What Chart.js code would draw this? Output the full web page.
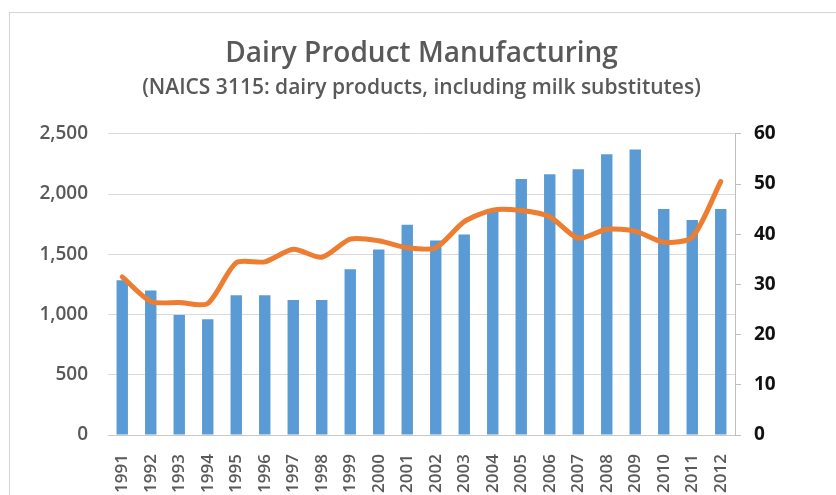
<!DOCTYPE html>
<html>
<head>
<meta charset="utf-8">
<script src="https://cdn.jsdelivr.net/npm/chart.js@4"></script>
<style>
  html, body { margin: 0; padding: 0; background: #fff; }
  #wrap { position: relative; width: 836px; height: 495px; overflow: hidden; }
  #frame { position: absolute; left: 9px; top: 12px; width: 900px; height: 600px;
           border-left: 1px solid #d4d4d4; border-top: 1px solid #d4d4d4; }
  #chart { position: absolute; left: 0; top: 0; }
</style>
</head>
<body>
<div id="wrap">
  <div id="frame"></div>
  <canvas id="chart" width="836" height="495"></canvas>
</div>
<script>
// dairy manufacturing: establishments (bars, left) and shipments (line, right)
var years = ["1991","1992","1993","1994","1995","1996","1997","1998","1999","2000","2001",
             "2002","2003","2004","2005","2006","2007","2008","2009","2010","2011","2012"];
var barValues = [1285, 1200, 995, 960, 1160, 1160, 1120, 1120, 1375, 1540, 1745,
                 1615, 1665, 1855, 2125, 2165, 2205, 2330, 2370, 1875, 1785, 1875];
var lineValues = [31.5, 26.6, 26.4, 26.2, 34.3, 34.5, 37.0, 35.4, 39.0, 38.7, 37.3,
                  37.3, 42.5, 44.8, 44.7, 43.5, 39.2, 41.0, 40.6, 38.4, 39.4, 50.5];
var leftTicks = [0, 500, 1000, 1500, 2000, 2500];
var rightTicks = [0, 10, 20, 30, 40, 50, 60];

var fontFamily = "'Open Sans', Lato, sans-serif";

var ctx = document.getElementById("chart").getContext("2d");
var chart = new Chart(ctx, {
  type: "bar",
  data: {
    labels: years,
    datasets: [
      {
        type: "line",
        data: lineValues,
        yAxisID: "y1",
        borderColor: "#ED7D31",
        borderWidth: 5,
        pointRadius: 0,
        tension: 0.25,
        borderCapStyle: "round",
        borderJoinStyle: "round",
        order: 0
      },
      {
        type: "bar",
        data: barValues,
        yAxisID: "y",
        backgroundColor: "#5B9BD5",
        barPercentage: 0.4,
        categoryPercentage: 1,
        order: 1
      }
    ]
  },
  options: {
    responsive: false,
    animation: false,
    layout: { padding: 0 },
    plugins: {
      legend: { display: false },
      tooltip: { enabled: false },
      title: {
        display: true,
        fullSize: false,
        text: "Dairy Product Manufacturing",
        color: "#595959",
        font: { family: fontFamily, size: 28, weight: "600" },
        padding: { top: 37, bottom: 5 }
      },
      subtitle: {
        display: true,
        fullSize: false,
        text: "(NAICS 3115: dairy products, including milk substitutes)",
        color: "#595959",
        font: { family: fontFamily, size: 21, weight: "600" },
        padding: { top: 0, bottom: 33 }
      }
    },
    scales: {
      x: {
        grid: { display: false },
        border: { display: true, color: "#c8c8c8" },
        ticks: {
          color: "#595959",
          font: { family: fontFamily, size: 17, weight: "600" },
          maxRotation: 90,
          minRotation: 90,
          autoSkip: false,
          padding: 11
        },
        afterFit: function (axis) { axis.height = 60; }
      },
      y: {
        position: "left",
        min: 0,
        max: 2500,
        afterBuildTicks: function (axis) {
          axis.ticks = leftTicks.map(function (v) { return { value: v }; });
        },
        grid: { color: "#d9d9d9", drawTicks: false },
        border: { display: false },
        ticks: {
          color: "#595959",
          font: { family: fontFamily, size: 19, weight: "600" },
          padding: 20,
          callback: function (v) { return v.toLocaleString("en-US"); }
        },
        afterFit: function (axis) { axis.width = 108; }
      },
      y1: {
        position: "right",
        min: 0,
        max: 60,
        afterBuildTicks: function (axis) {
          axis.ticks = rightTicks.map(function (v) { return { value: v }; });
        },
        grid: { drawOnChartArea: false, drawTicks: true, tickLength: 6, color: "#bfbfbf" },
        border: { display: true, color: "#bfbfbf" },
        ticks: {
          color: "#111",
          font: { family: fontFamily, size: 19, weight: "bold" },
          padding: 13
        },
        afterFit: function (axis) { axis.width = 101; }
      }
    }
  }
});
</script>
</body>
</html>
